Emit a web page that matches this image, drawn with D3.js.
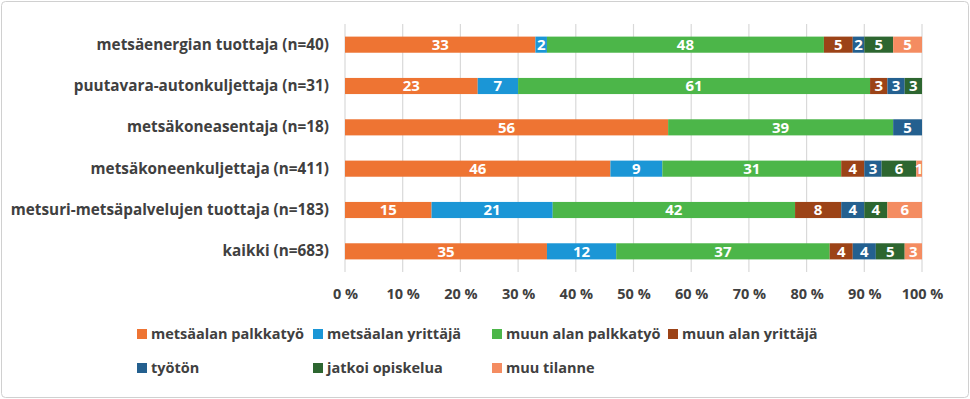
<!DOCTYPE html>
<html>
<head>
<meta charset="utf-8">
<script src="https://cdn.jsdelivr.net/npm/d3@7"></script>
<style>
  body { margin: 0; background: #fff; }
  svg { display: block; }
  text { font-family: "Open Sans", Lato, sans-serif; font-weight: bold; }
</style>
</head>
<body>
<div id="chart"></div>
<script>
'use strict';

// ryhmät (ylhäältä alas)
const categories = [
    "metsäenergian tuottaja (n=40)",
    "puutavara-autonkuljettaja (n=31)",
    "metsäkoneasentaja (n=18)",
    "metsäkoneenkuljettaja (n=411)",
    "metsuri-metsäpalvelujen tuottaja (n=183)",
    "kaikki (n=683)"
];

const seriesNames = [
    "metsäalan palkkatyö",
    "metsäalan yrittäjä",
    "muun alan palkkatyö",
    "muun alan yrittäjä",
    "työtön",
    "jatkoi opiskelua",
    "muu tilanne"
];

// osuudet % sarjoittain, järjestys sama kuin categories
const palkkatyo      = [33, 23, 56, 46, 15, 35];
const yrittaja       = [ 2,  7,  0,  9, 21, 12];
const muuPalkkatyo   = [48, 61, 39, 31, 42, 37];
const muuYrittaja    = [ 5,  3,  0,  4,  8,  4];
const tyoton         = [ 2,  3,  5,  3,  4,  4];
const opiskelu       = [ 5,  3,  0,  6,  4,  5];
const muuTilanne     = [ 5,  0,  0,  1,  6,  3];

const tickLabels = ["0 %", "10 %", "20 %", "30 %", "40 %", "50 %", "60 %", "70 %", "80 %", "90 %", "100 %"];

const colors = ["#ee7433", "#1b96d6", "#4cb649", "#9c4317", "#24608f", "#2d6630", "#f48c61"];

const W = 970, H = 399;
const margin = {left: 345, right: 48, top: 24, bottom: 127};

const svg = d3.select("#chart").append("svg")
    .attr("width", W)
    .attr("height", H);

// kehys
svg.append("rect")
    .attr("x", 1.5).attr("y", 1.5)
    .attr("width", W - 3).attr("height", H - 3)
    .attr("rx", 4)
    .attr("fill", "#fff")
    .attr("stroke", "#d0d0d0");

const seriesValues = [palkkatyo, yrittaja, muuPalkkatyo, muuYrittaja, tyoton, opiskelu, muuTilanne];

const rows = categories.map((c, i) => {
    let row = {cat: c};
    seriesNames.forEach((s, j) => row[s] = seriesValues[j][i]);
    return row;
});

const x = d3.scaleLinear()
    .domain([0, 100])
    .range([margin.left, W - margin.right]);

const y = d3.scaleBand()
    .domain(categories)
    .range([margin.top, H - margin.bottom])
    .paddingInner(0.61)
    .paddingOuter(0.305);

// pystyviivat
svg.append("g")
    .selectAll("line")
    .data(d3.range(0, 101, 10))
    .join("line")
    .attr("x1", d => x(d)).attr("x2", d => x(d))
    .attr("y1", margin.top).attr("y2", H - margin.bottom)
    .attr("stroke", "#d9d9d9")
    .attr("stroke-width", 1.2);

const stack = d3.stack().keys(seriesNames)(rows);

const layer = svg.append("g")
    .selectAll("g")
    .data(stack)
    .join("g")
    .attr("fill", (d, i) => colors[i]);

layer.selectAll("rect")
    .data(d => d)
    .join("rect")
    .attr("x", d => x(d[0]))
    .attr("y", d => y(d.data.cat))
    .attr("width", d => x(d[1]) - x(d[0]))
    .attr("height", y.bandwidth());

// arvot palkkeihin
stack.forEach(s => {
    s.forEach(d => {
        const v = d[1] - d[0];
        if (v <= 0) return;
        svg.append("text")
            .attr("x", (x(d[0]) + x(d[1])) / 2)
            .attr("y", y(d.data.cat) + y.bandwidth() / 2)
            .attr("dy", "0.36em")
            .attr("text-anchor", "middle")
            .attr("fill", "#fff")
            .style("font-size", "15px")
            .text(v);
    });
});

// luokka-akseli
const yAxis = svg.append("g")
    .attr("transform", `translate(${margin.left - 16},0)`)
    .call(d3.axisLeft(y).tickSize(0).tickPadding(0));
yAxis.select(".domain").remove();
yAxis.selectAll("text")
    .attr("fill", "#404040")
    .style("font-size", "15.3px")
    .style("font-family", "'Open Sans', sans-serif");

// prosenttiakseli
const xAxis = svg.append("g")
    .attr("transform", `translate(0,${H - margin.bottom + 9})`)
    .call(d3.axisBottom(x).tickValues(d3.range(0, 101, 10)).tickSize(0).tickPadding(8)
        .tickFormat((d, i) => tickLabels[i]));
xAxis.select(".domain").remove();
xAxis.selectAll("text")
    .attr("fill", "#404040")
    .style("font-size", "14.5px")
    .style("font-family", "'Open Sans', sans-serif");

// selite
const legendX = [137, 313, 492, 668];
const legendY = [334, 368];
const legend = svg.append("g")
    .selectAll("g")
    .data(seriesNames)
    .join("g")
    .attr("transform", (d, i) => `translate(${legendX[i % 4]},${legendY[Math.floor(i / 4)]})`);

legend.append("rect")
    .attr("x", 0).attr("y", -5)
    .attr("width", 10).attr("height", 10)
    .attr("fill", (d, i) => colors[i]);

legend.append("text")
    .attr("x", 14)
    .attr("dy", "0.36em")
    .attr("fill", "#404040")
    .style("font-size", "14.5px")
    .text(d => d);
</script>
</body>
</html>
